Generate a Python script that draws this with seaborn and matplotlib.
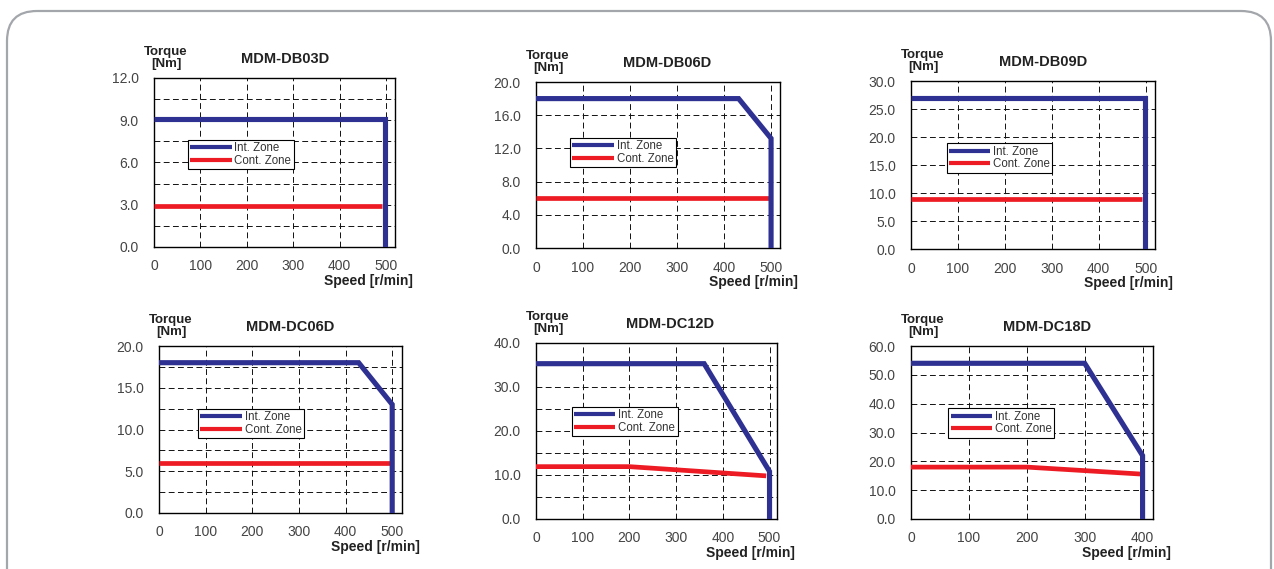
import numpy as np
import pandas as pd
import matplotlib
matplotlib.use("Agg")
import matplotlib.pyplot as plt
from matplotlib.patches import FancyBboxPatch
from matplotlib.transforms import IdentityTransform
import seaborn as sns

# Speed-torque curves
models = ["MDM-DB03D", "MDM-DB06D", "MDM-DB09D",
          "MDM-DC06D", "MDM-DC12D", "MDM-DC18D"]

int_speed = [
    [0, 498, 498],
    [0, 431, 500, 500],
    [0, 498, 498],
    [0, 428, 500, 500],
    [0, 360, 500, 500],
    [0, 300, 400, 400],
]
int_torque = [
    [9.1, 9.1, 0.0],
    [18.0, 18.0, 13.2, 0.0],
    [27.0, 27.0, 0.0],
    [18.0, 18.0, 13.0, 0.0],
    [35.3, 35.3, 10.8, 0.0],
    [54.0, 54.0, 22.0, 0.0],
]
cont_speed = [
    [0, 492],
    [0, 495],
    [0, 493],
    [0, 495],
    [0, 200, 493],
    [0, 200, 396],
]
cont_torque = [
    [2.9, 2.9],
    [6.0, 6.0],
    [8.9, 8.9],
    [6.0, 6.0],
    [11.9, 11.9, 9.8],
    [18.0, 18.0, 15.6],
]

x_ticks = [
    [0, 100, 200, 300, 400, 500],
    [0, 100, 200, 300, 400, 500],
    [0, 100, 200, 300, 400, 500],
    [0, 100, 200, 300, 400, 500],
    [0, 100, 200, 300, 400, 500],
    [0, 100, 200, 300, 400],
]
y_ticks = [
    [0, 3, 6, 9, 12],
    [0, 4, 8, 12, 16, 20],
    [0, 5, 10, 15, 20, 25, 30],
    [0, 5, 10, 15, 20],
    [0, 10, 20, 30, 40],
    [0, 10, 20, 30, 40, 50, 60],
]
y_minor = [
    [1.5, 4.5, 7.5, 10.5],
    [],
    [],
    [2.5, 7.5, 12.5, 17.5],
    [5, 15, 25, 35],
    [],
]
x_max = [519, 519, 520, 521, 516, 418]

# layout (pixels in the 1274x569 picture): left, right, top, bottom
W, H = 1274, 569
boxes = [
    (154, 395, 78, 247),
    (536, 780, 82, 248),
    (911, 1155, 81, 249),
    (159, 402, 346, 513),
    (536, 777, 343, 519),
    (911, 1153, 346, 519),
]
legend_pos = [(0.14, 0.633), (0.14, 0.663), (0.146, 0.628),
              (0.16, 0.622), (0.148, 0.638), (0.154, 0.639)]
title_x = [0.544, 0.536, 0.54, 0.54, 0.556, 0.561]

BLUE = "#2E3192"
RED = "#ED1C24"

sns.set_style("white")
plt.rcParams["font.family"] = ["Liberation Sans", "DejaVu Sans"]

fig = plt.figure(figsize=(W / 100, H / 100), dpi=100)
fig.patch.set_facecolor("white")

# rounded frame around the whole panel
frame = FancyBboxPatch((7, -40), 1264, 598,
                       boxstyle="round,pad=0,rounding_size=30",
                       transform=IdentityTransform(),
                       facecolor="none", edgecolor="#A3A6AA", linewidth=1.6)
fig.add_artist(frame)

for i, name in enumerate(models):
    l, r, t, b = boxes[i]
    ax = fig.add_axes([l / W, 1 - b / H, (r - l) / W, (b - t) / H])

    sns.lineplot(x=cont_speed[i], y=cont_torque[i], sort=False, estimator=None,
                 color=RED, linewidth=3.4, ax=ax, label="Cont. Zone",
                 solid_joinstyle="miter", solid_capstyle="butt", zorder=3)
    sns.lineplot(x=int_speed[i], y=int_torque[i], sort=False, estimator=None,
                 color=BLUE, linewidth=3.7, ax=ax, label="Int. Zone",
                 solid_joinstyle="miter", solid_capstyle="butt", zorder=4)

    ax.set_xlim(0, x_max[i])
    ax.set_ylim(y_ticks[i][0], y_ticks[i][-1])
    ax.set_xticks(x_ticks[i])
    ax.set_yticks(y_ticks[i])
    ax.set_yticks(y_minor[i], minor=True)
    ax.set_yticklabels([f"{v:.1f}" for v in y_ticks[i]])
    ax.tick_params(axis="both", which="both", length=0, labelsize=10,
                   labelcolor="#444444")
    ax.tick_params(axis="y", pad=11)
    ax.tick_params(axis="x", pad=9)

    ax.grid(True, which="both", axis="both", color="#111111",
            linestyle=(0, (6, 3.5)), linewidth=0.7)
    ax.set_axisbelow(True)
    for sp in ax.spines.values():
        sp.set_visible(True)
        sp.set_color("black")
        sp.set_linewidth(1.0)

    ax.set_xlabel("")
    ax.set_ylabel("")

    handles, labels = ax.get_legend_handles_labels()
    order = [labels.index("Int. Zone"), labels.index("Cont. Zone")]
    leg = ax.legend([handles[k] for k in order], [labels[k] for k in order],
                    loc="upper left", bbox_to_anchor=legend_pos[i],
                    borderaxespad=0, fontsize=8.3, frameon=True, fancybox=False,
                    framealpha=1, edgecolor="black", handlelength=3.6,
                    handletextpad=0.25, labelspacing=0.05, borderpad=0.2)
    leg.get_frame().set_linewidth(0.8)
    for txt in leg.get_texts():
        txt.set_color("#333333")
    for ln in leg.get_lines():
        ln.set_linewidth(3.0)

    ax.annotate(name, xy=(title_x[i], 1), xycoords="axes fraction",
                xytext=(0, 19), textcoords="offset pixels",
                ha="center", va="center", fontsize=10.5, fontweight="bold",
                color="#222222")
    ax.annotate("Torque\n[Nm]", xy=(0, 1), xycoords="axes fraction",
                xytext=(12, 8), textcoords="offset pixels",
                ha="center", va="bottom", fontsize=9.5, fontweight="bold",
                color="#222222", linespacing=1.05)
    ax.annotate("Speed [r/min]", xy=(1, 0), xycoords="axes fraction",
                xytext=(18, -34), textcoords="offset pixels",
                ha="right", va="center", fontsize=10, fontweight="bold",
                color="#222222")

fig.savefig("out.png", dpi=100)
